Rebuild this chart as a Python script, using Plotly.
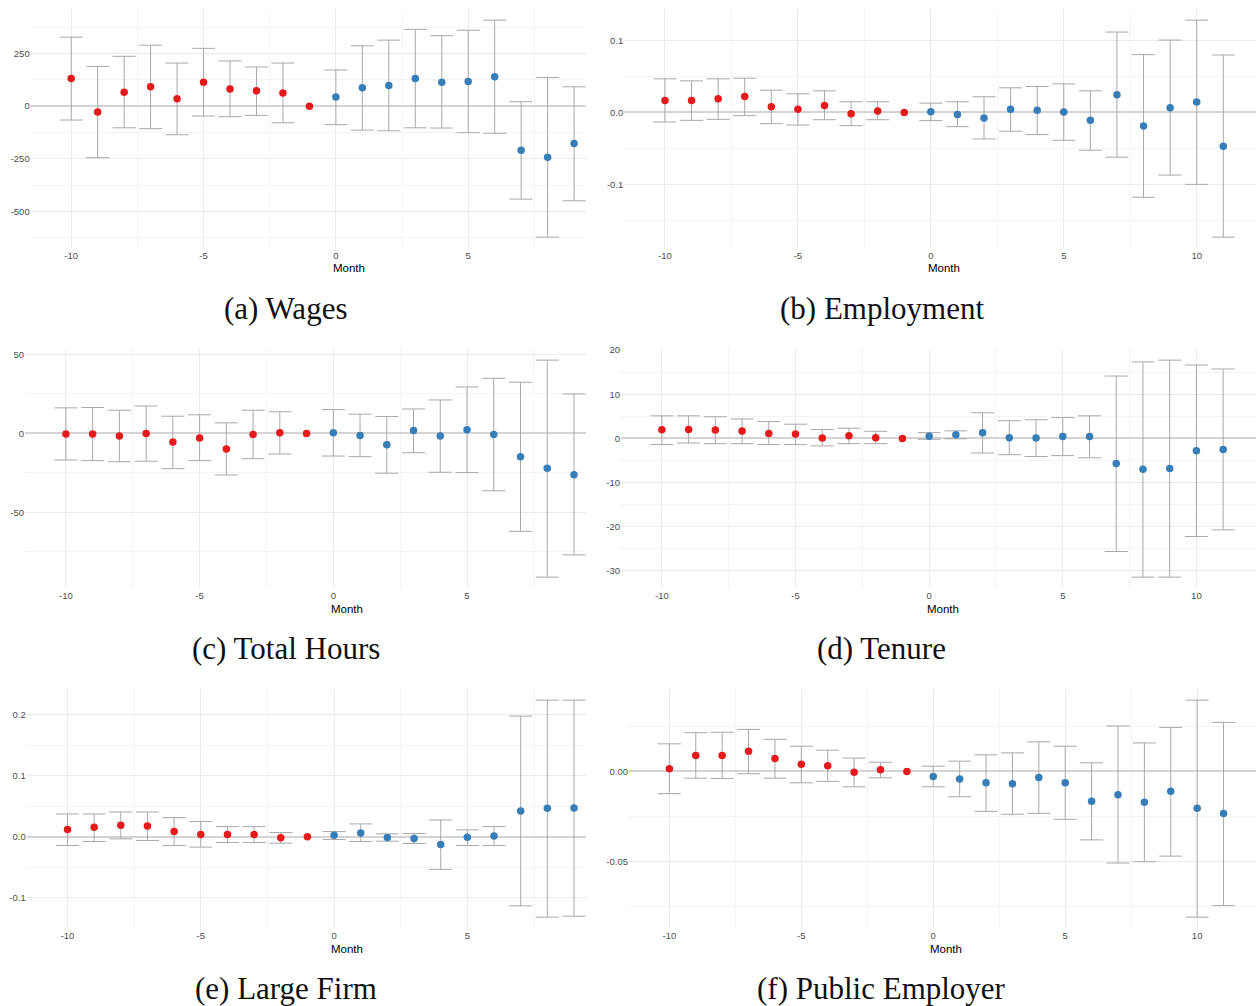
import plotly.graph_objects as go

# ---------------------------------------------------------------------------
# Event-study estimates by month relative to the event (month -1 = reference)
# ---------------------------------------------------------------------------
months_short = list(range(-10, 10))
months_long = list(range(-10, 12))

wages_est = [131, -28, 66, 92, 35, 114, 82, 73, 63, 0, 43, 87, 98, 131, 114, 117, 140, -210, -243, -178]
wages_lo = [-66, -245, -103, -107, -136, -47, -50, -44, -79, 0, -88, -114, -117, -103, -104, -126, -129, -442, -623, -450]
wages_hi = [328, 189, 237, 290, 205, 275, 215, 186, 205, 0, 172, 287, 314, 365, 335, 361, 409, 21, 136, 92]

emp_est = [0.0166, 0.0166, 0.0189, 0.0222, 0.0079, 0.0042, 0.0097, -0.0018, 0.0018, 0, 0.0009, -0.0028,
           -0.0079, 0.0042, 0.0028, 0.0005, -0.0111, 0.0245, -0.0189, 0.0065, 0.0143, -0.0471]
emp_lo = [-0.0134, -0.0111, -0.0097, -0.0046, -0.0157, -0.0176, -0.0102, -0.0185, -0.0102, 0, -0.0115, -0.0199,
          -0.0370, -0.0263, -0.0309, -0.0388, -0.0527, -0.0624, -0.1182, -0.0873, -0.1002, -0.1737]
emp_hi = [0.0467, 0.0439, 0.0467, 0.0476, 0.0309, 0.0259, 0.0300, 0.0148, 0.0148, 0, 0.0129, 0.0148,
          0.0217, 0.0342, 0.0360, 0.0397, 0.0300, 0.1118, 0.0804, 0.1007, 0.1284, 0.0799]

hours_est = [-0.4, -0.4, -1.7, 0, -5.5, -2.9, -9.9, -0.6, 0.4, 0, 0.4, -1.3, -7.1, 1.9, -1.7, 2.3, -0.6, -14.7, -22.1, -26.1]
hours_lo = [-16.8, -17.2, -17.9, -17.6, -22.3, -17.2, -26.3, -16.0, -13.0, 0, -14.3, -14.7, -25.2, -12.2, -24.6, -24.8, -36.3, -62.0, -91.0, -76.9]
hours_hi = [16.2, 16.4, 14.7, 17.4, 10.9, 11.8, 6.7, 14.7, 13.7, 0, 15.1, 12.2, 10.7, 15.5, 21.2, 29.4, 34.9, 32.4, 46.4, 25.0]

tenure_est = [1.95, 2.0, 1.9, 1.65, 1.1, 1.0, 0.1, 0.6, 0.15, 0, 0.5, 0.8, 1.3, 0.15, 0.1, 0.4, 0.4, -5.7, -7.0, -6.8, -2.8, -2.5]
tenure_lo = [-1.4, -1.05, -1.2, -1.2, -1.4, -1.4, -1.7, -1.2, -1.2, 0, -0.2, -0.1, -3.3, -3.7, -4.1, -3.9, -4.4, -25.6, -31.4, -31.4, -22.2, -20.7]
tenure_hi = [5.1, 5.1, 4.9, 4.4, 3.8, 3.2, 2.0, 2.3, 1.6, 0, 1.3, 1.7, 5.8, 4.0, 4.2, 4.7, 5.1, 14.1, 17.3, 17.7, 16.6, 15.7]

large_est = [0.012, 0.0158, 0.019, 0.0179, 0.0087, 0.0038, 0.0038, 0.0038, -0.0016, 0, 0.0027, 0.0065, -0.0011,
             -0.0027, -0.0125, -0.0005, 0.0016, 0.0424, 0.0467, 0.0473]
large_lo = [-0.0141, -0.0076, -0.0033, -0.006, -0.0141, -0.0168, -0.0092, -0.0092, -0.0103, 0, -0.0043, -0.0076,
            -0.0071, -0.0109, -0.0533, -0.0141, -0.0141, -0.113, -0.1315, -0.1299]
large_hi = [0.0375, 0.0375, 0.0408, 0.0408, 0.0315, 0.025, 0.0168, 0.0168, 0.0071, 0, 0.0087, 0.0212,
            0.0049, 0.0054, 0.0277, 0.0114, 0.0168, 0.1978, 0.2239, 0.2239]

public_est = [0.0015, 0.0088, 0.0088, 0.0112, 0.0072, 0.004, 0.0031, -0.0004, 0.0009, 0, -0.0028, -0.0042,
              -0.0063, -0.0068, -0.0033, -0.0063, -0.0165, -0.0129, -0.0171, -0.011, -0.0204, -0.0233]
public_lo = [-0.0123, -0.0037, -0.0039, -0.0013, -0.0037, -0.0063, -0.0055, -0.0085, -0.0035, 0, -0.0085, -0.014,
             -0.0221, -0.0237, -0.0232, -0.0265, -0.0379, -0.0507, -0.05, -0.0469, -0.0807, -0.0743]
public_hi = [0.0153, 0.0215, 0.0217, 0.0233, 0.0178, 0.014, 0.0118, 0.0074, 0.0051, 0, 0.0029, 0.0057,
             0.0092, 0.0103, 0.0164, 0.014, 0.0048, 0.0252, 0.0158, 0.0244, 0.0395, 0.0272]

# Tick values and labels
x_tickvals = [-10, -5, 0, 5, 10]
x_ticktext = ["-10", "-5", "0", "5", "10"]

wages_ytickvals = [250, 0, -250, -500]
wages_yticktext = ["250", "0", "-250", "-500"]
emp_ytickvals = [0.1, 0.0, -0.1]
emp_yticktext = ["0.1", "0.0", "-0.1"]
hours_ytickvals = [50, 0, -50]
hours_yticktext = ["50", "0", "-50"]
tenure_ytickvals = [20, 10, 0, -10, -20, -30]
tenure_yticktext = ["20", "10", "0", "-10", "-20", "-30"]
large_ytickvals = [0.2, 0.1, 0.0, -0.1]
large_yticktext = ["0.2", "0.1", "0.0", "-0.1"]
public_ytickvals = [0.0, -0.05]
public_yticktext = ["0.00", "-0.05"]

captions = ["(a) Wages", "(b) Employment", "(c) Total Hours", "(d) Tenure", "(e) Large Firm", "(f) Public Employer"]
x_title = "Month"

# ---------------------------------------------------------------------------
# Styling / layout
# ---------------------------------------------------------------------------
W, H = 1256, 1006
RED = "#E41A1C"
BLUE = "#377EB8"
BAR = "#A9A9A9"
GRID = "#EBEBEB"
GRID_MINOR = "#F4F4F4"
TICK_FONT = dict(family="Liberation Sans, Arial, sans-serif", size=9.5, color="#4D4D4D")

# panel frames in pixels: (left, right, top, bottom)
frames = [
    (30.7, 586, 9.3, 248),
    (624.3, 1256, 9.3, 248),
    (25, 586, 349.3, 588),
    (621, 1256, 349.3, 588),
    (26.7, 586, 689.3, 928),
    (629, 1256, 689.3, 928),
]
x_ranges = [(-11.53, 9.45), (-11.53, 12.23)] * 3
caption_x = [285.5, 881.5] * 3
caption_y = [308, 308, 648, 648, 988, 988]

panels = [
    (months_short, wages_est, wages_lo, wages_hi, wages_ytickvals, wages_yticktext),
    (months_long, emp_est, emp_lo, emp_hi, emp_ytickvals, emp_yticktext),
    (months_short, hours_est, hours_lo, hours_hi, hours_ytickvals, hours_yticktext),
    (months_long, tenure_est, tenure_lo, tenure_hi, tenure_ytickvals, tenure_yticktext),
    (months_short, large_est, large_lo, large_hi, large_ytickvals, large_yticktext),
    (months_long, public_est, public_lo, public_hi, public_ytickvals, public_yticktext),
]


def px_to_paper_x(px):
    return px / W


def px_to_paper_y(py):
    return 1 - py / H


fig = go.Figure()
layout = dict(
    template="none",
    width=W, height=H,
    margin=dict(l=0, r=0, t=0, b=0, pad=0),
    paper_bgcolor="white", plot_bgcolor="white",
    showlegend=False,
)
annotations = []

for i, (months, est, lo, hi, ytv, ytt) in enumerate(panels):
    n = i + 1
    xa = "x" if n == 1 else f"x{n}"
    ya = "y" if n == 1 else f"y{n}"

    def segment(sel, color, with_err):
        xs = [months[k] for k in sel]
        ys = [est[k] for k in sel]
        tr = dict(
            x=xs, y=ys, mode="markers", xaxis=xa, yaxis=ya,
            marker=dict(color=color, size=7.5, line=dict(width=0)),
            hoverinfo="skip",
        )
        if with_err:
            tr["error_y"] = dict(
                type="data", symmetric=False,
                array=[hi[k] - est[k] for k in sel],
                arrayminus=[est[k] - lo[k] for k in sel],
                color=BAR, thickness=1, width=11.5,
            )
        fig.add_trace(go.Scatter(**tr))

    pre = [k for k, m in enumerate(months) if m < -1]
    ref = [k for k, m in enumerate(months) if m == -1]
    post = [k for k, m in enumerate(months) if m >= 0]
    segment(pre, RED, True)
    segment(post, BLUE, True)
    segment(ref, RED, False)

    # y range: data extent padded by 5%
    ymin, ymax = min(lo), max(hi)
    pad = 0.05 * (ymax - ymin)
    step = abs(ytv[0] - ytv[1])
    y_minor = sorted(v - step / 2 for v in ytv) + [max(ytv) + step / 2]

    left, right, top, bottom = frames[i]
    xaxis = dict(
        domain=[px_to_paper_x(left), px_to_paper_x(right)],
        range=list(x_ranges[i]), anchor=ya, automargin=False,
        tickmode="array", tickvals=x_tickvals, ticktext=x_ticktext,
        showgrid=True, gridcolor=GRID, gridwidth=1, zeroline=False,
        showline=False, ticks="", tickfont=TICK_FONT,
        minor=dict(tickmode="array", tickvals=[-7.5, -2.5, 2.5, 7.5, 12.5],
                   showgrid=True, gridcolor=GRID_MINOR, gridwidth=1, ticks=""),
        fixedrange=True,
    )
    yaxis = dict(
        domain=[px_to_paper_y(bottom), px_to_paper_y(top)],
        range=[ymin - pad, ymax + pad], anchor=xa, automargin=False,
        tickmode="array", tickvals=ytv, ticktext=ytt,
        showgrid=True, gridcolor=GRID, gridwidth=1,
        zeroline=True, zerolinecolor="#D4D4D4", zerolinewidth=1.5,
        showline=False, ticks="", tickfont=TICK_FONT,
        minor=dict(tickmode="array", tickvals=y_minor,
                   showgrid=True, gridcolor=GRID_MINOR, gridwidth=1, ticks=""),
        fixedrange=True,
    )
    layout["xaxis" if n == 1 else f"xaxis{n}"] = xaxis
    layout["yaxis" if n == 1 else f"yaxis{n}"] = yaxis

    # axis title, centred on the full month scale
    annotations.append(dict(
        text=x_title, xref=xa, yref="paper",
        x=0.5, y=px_to_paper_y(bottom + 20.5),
        showarrow=False, xanchor="center", yanchor="middle",
        font=dict(family="Liberation Sans, Arial, sans-serif", size=11.5, color="black"),
    ))
    # sub-figure caption
    annotations.append(dict(
        text=captions[i], xref="paper", yref="paper",
        x=px_to_paper_x(caption_x[i]), y=px_to_paper_y(caption_y[i]),
        showarrow=False, xanchor="center", yanchor="middle",
        font=dict(family="Liberation Serif, Times New Roman, serif", size=31, color="#111111"),
    ))

layout["annotations"] = annotations
fig.update_layout(**layout)
fig.write_html("out.html")
